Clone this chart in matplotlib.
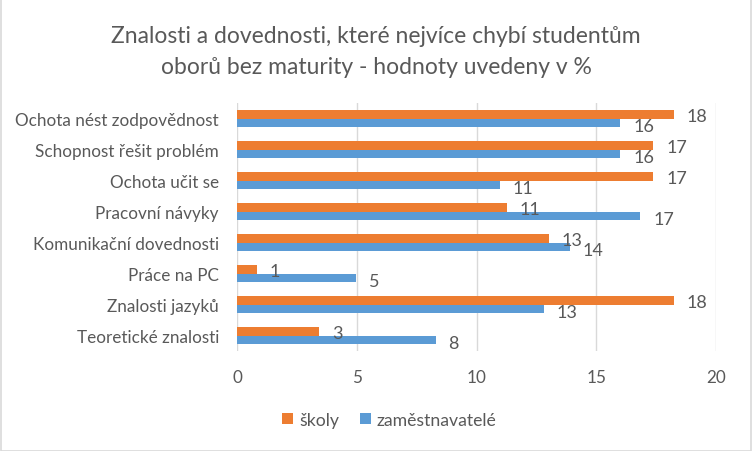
import numpy as np
import matplotlib.pyplot as plt
from matplotlib.patches import Rectangle

plt.rcParams['font.family'] = ['Lato', 'DejaVu Sans']

# categories top to bottom
categories = [
    "Ochota nést zodpovědnost",
    "Schopnost řešit problém",
    "Ochota učit se",
    "Pracovní návyky",
    "Komunikační dovednosti",
    "Práce na PC",
    "Znalosti jazyků",
    "Teoretické znalosti",
]
skoly = [18.24, 17.39, 17.39, 11.27, 13.01, 0.82, 18.24, 3.44]
zamestnavatele = [16.0, 16.0, 10.98, 16.83, 13.89, 4.97, 12.81, 8.29]
series_names = ["školy", "zaměstnavatelé"]
title = "Znalosti a dovednosti, které nejvíce chybí studentům\noborů bez maturity - hodnoty uvedeny v %"

ORANGE = "#ED7D31"
BLUE = "#5B9BD5"
TEXT = "#595959"
GRID = "#D9D9D9"

fig = plt.figure(figsize=(7.52, 4.52), dpi=100)
fig.patches.append(Rectangle((0.001, 0.001), 0.998, 0.998, transform=fig.transFigure,
                             fill=False, edgecolor=GRID, linewidth=1.2))

ax = fig.add_axes([237 / 752, 1 - 352 / 452, (716 - 237) / 752, (352 - 104) / 452])

n = len(categories)
y = np.arange(n)[::-1]
h = 0.29
ax.barh(y + h / 2, skoly, height=h, color=ORANGE, label=series_names[0], zorder=3)
ax.barh(y - h / 2, zamestnavatele, height=h, color=BLUE, label=series_names[1], zorder=3)

for yi, v in zip(y, skoly):
    ax.annotate(f"{v:.0f}", (v, yi + h / 2), xytext=(13, -2), textcoords="offset pixels",
                va="center", ha="left", fontsize=13, color=TEXT)
for yi, v in zip(y, zamestnavatele):
    ax.annotate(f"{v:.0f}", (v, yi - h / 2), xytext=(13, -3), textcoords="offset pixels",
                va="center", ha="left", fontsize=13, color=TEXT)

ax.set_xlim(0, 20)
ax.set_ylim(-0.5, n - 0.5)
ax.set_xticks(range(0, 21, 5))
ax.set_yticks(y)
ax.set_yticklabels(categories)
ax.tick_params(axis="both", length=0, labelsize=12.3, colors=TEXT)
ax.tick_params(axis="x", pad=13)
ax.tick_params(axis="y", pad=13)
ax.xaxis.grid(True, color=GRID, linewidth=1, zorder=0)
for s in ax.spines.values():
    s.set_visible(False)

fig.text(0.5, 1 - 52 / 452, title, ha="center", va="center", fontsize=16.5,
         color=TEXT, linespacing=1.55)

fig.legend(loc="center", bbox_to_anchor=(0.518, 1 - 421 / 452), ncol=2, frameon=False,
           fontsize=12.7, labelcolor=TEXT, handlelength=0.6, handleheight=0.6,
           handletextpad=0.35, columnspacing=1.2)

fig.savefig("out.png", dpi=100)
